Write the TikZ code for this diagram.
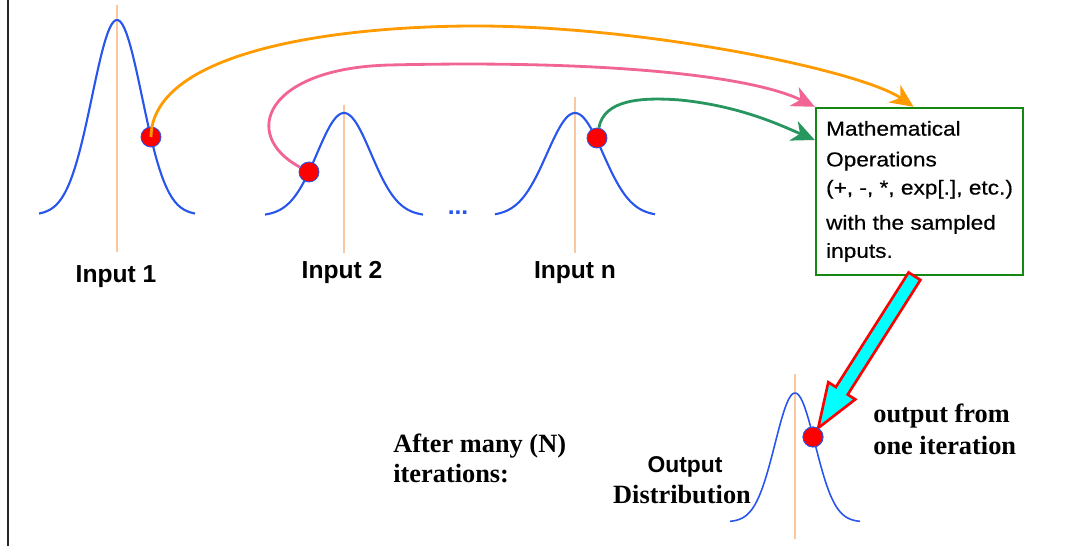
\documentclass[tikz,border=0pt]{standalone}
\usepackage{fontspec}
\setmainfont{Liberation Serif}
\setsansfont{Liberation Sans}
\newfontfamily\boxfont[FakeStretch=1.12,FakeBold=0.4]{Liberation Sans}
\usepackage{tikz}
\usetikzlibrary{arrows.meta,calc,positioning}
\definecolor{curveblue}{RGB}{40,85,235}
\definecolor{meanline}{RGB}{250,200,160}
\definecolor{arrorange}{RGB}{255,155,0}
\definecolor{arrpink}{RGB}{240,100,150}
\definecolor{arrgreen}{RGB}{40,150,95}
\definecolor{boxgreen}{RGB}{20,135,20}
\definecolor{fatcyan}{RGB}{0,255,255}
% bell curve: centre x, base y, height, sigma, half width
\newcommand\gcurve[5]{\draw[curve] plot[domain=-#5:#5,samples=80,smooth] ({#1+\x},{#2-#3*exp(-(\x*\x)/(2*#4*#4))});}

\begin{document}
\begin{tikzpicture}[x=0.02cm,y=-0.02cm,
    curve/.style={curveblue,line width=1.2pt},
    mean/.style={meanline,line width=0.6pt},
    dot/.style={circle,fill=red,draw=curveblue,line width=0.5pt,minimum size=0.4cm,inner sep=0pt},
    link/.style={line width=1.6pt,-{Stealth[length=0.46cm,width=0.42cm,inset=0.14cm]}},
    inlabel/.style={font=\sffamily\bfseries\fontsize{14}{16}\selectfont,anchor=base,inner sep=0pt},
    serifbold/.style={font=\rmfamily\bfseries\fontsize{15}{17}\selectfont,inner sep=0pt},
    fat/.style={fill=fatcyan,draw=red,line width=1.5pt,line join=miter}]
  \useasboundingbox (0,0) rectangle (1081,546);
  \draw[line width=1.4pt,black!85] (8,0) -- (8,546);
  % input distributions
  \draw[mean] (117,5) -- (117,252);
  \draw[mean] (344,105) -- (344,253);
  \draw[mean] (575,97) -- (575,253);
  \gcurve{117}{215}{195}{25}{78}
  \gcurve{344}{216}{103}{27}{79}
  \gcurve{575}{216}{103}{28}{80}
  \node[inlabel] (in1) at (116,283) {Input 1};
  \node[inlabel] (in2) at (342,279) {Input 2};
  \node[inlabel] (inn) at (575,279) {Input n};
  \node[inlabel,text=curveblue] (dots) at (458,215) {...};
  % operations box
  \node[draw=boxgreen,line width=1.4pt,fill=white,font=\boxfont\fontsize{11.5}{16}\selectfont,
        align=left,minimum width=4.14cm,minimum height=3.34cm,inner sep=0pt] (ops) at (919.5,191.5)
        {Mathematical\\[1.5pt]Operations\\(+, -, *, exp[.], etc.)\\[4pt]with the sampled\\inputs.};
  % output distribution
  \draw[mean] (795,374) -- (795,539);
  \draw[curveblue,line width=0.9pt] plot[domain=-65:65,samples=80,smooth] ({795+\x},{522-129*exp(-(\x*\x)/(2*20*20))});
  % sampled points
  \node[dot] (d1) at (151,137) {};
  \node[dot] (d2) at (309,172) {};
  \node[dot] (dn) at (597,138) {};
  % arrows to the box
  \draw[link,arrorange] (d1.center) .. controls (152,55) and (320,27) .. (470,26) .. controls (640,25) and (860,70) .. ([xshift=-0.12cm]ops.north);
  \draw[link,arrpink] (d2) .. controls (240,135) and (265,68) .. (390,65) .. controls (600,60) and (750,75) .. (ops.north west);
  \draw[link,arrgreen] (dn) .. controls (604,100) and (640,97) .. (680,100) .. controls (740,106) and (780,125) .. ([yshift=1.03cm]ops.west);
  % big arrow down to the output
  \node[dot] (out) at (813,437) {};
  \coordinate (fa) at ([xshift=-0.1cm]ops.south);
  \coordinate (fb) at (out.60);
  \coordinate (hb) at ($(fb)!0.88cm!(fa)$);
  \draw[fat] ($(fa)!0.14cm!90:(fb)$) -- ($(hb)!0.14cm!-90:(fa)$) -- ($(hb)!0.32cm!-90:(fa)$) -- (fb)
    -- ($(hb)!0.32cm!90:(fa)$) -- ($(hb)!0.14cm!90:(fa)$) -- ($(fa)!0.14cm!-90:(fb)$) -- cycle;
  \node[dot] at (out) {};
  % texts
  \node[serifbold,anchor=base west] (after) at (393,453) {After many (N)};
  \node[serifbold,anchor=base west] (iter) at ([yshift=-17pt]after.base west) {iterations:};
  \node[serifbold,anchor=base west] (oit1) at (873,423) {output from};
  \node[serifbold,anchor=base west] (oit2) at ([yshift=-18pt]oit1.base west) {one iteration};
  \node[font=\sffamily\bfseries\fontsize{13}{15}\selectfont,anchor=base,inner sep=0pt] (outl1) at (685,473) {Output};
  \node[serifbold,anchor=base] (outl2) at (682,504) {Distribution};
\end{tikzpicture}
\end{document}
